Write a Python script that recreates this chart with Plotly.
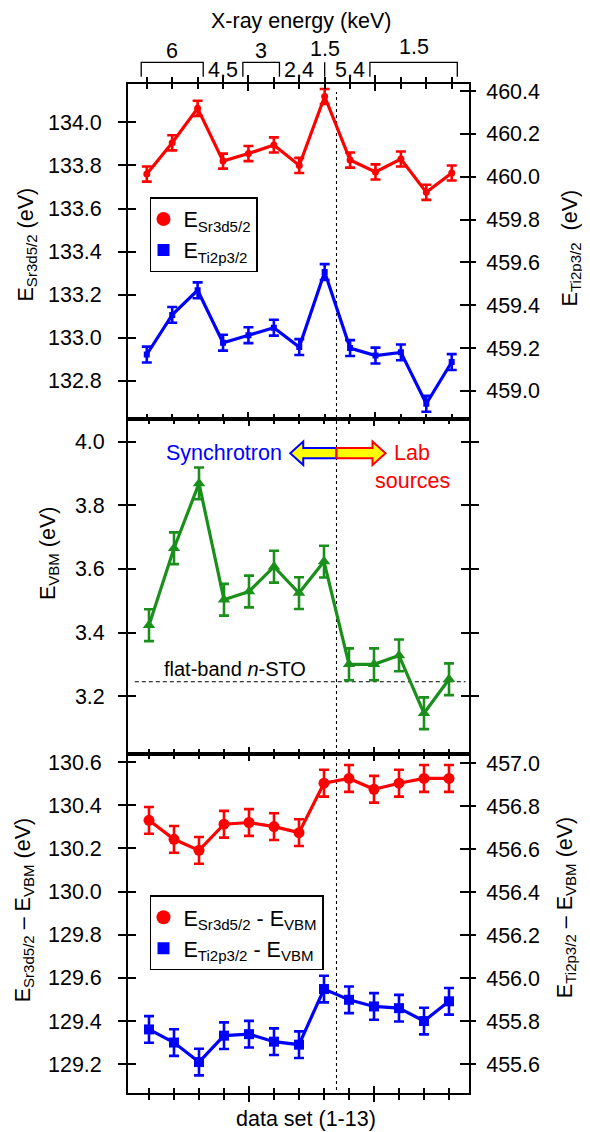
import plotly.graph_objects as go

# ---------------- data ----------------
data_set = list(range(1, 14))

e_sr3d = [133.76, 133.905, 134.065, 133.82, 133.855, 133.895, 133.80, 134.12,
          133.825, 133.77, 133.83, 133.675, 133.765]
e_sr3d_err = [0.035] * 13
e_ti2p = [459.17, 459.355, 459.47, 459.225, 459.26, 459.295, 459.205, 459.555,
          459.20, 459.165, 459.18, 458.94, 459.135]
e_ti2p_err = [0.037] * 13

e_vbm = [3.423, 3.665, 3.869, 3.503, 3.529, 3.607, 3.524, 3.623,
         3.30, 3.30, 3.328, 3.146, 3.253]
e_vbm_err = [0.05] * 13

sr_minus_vbm = [130.33, 130.242, 130.191, 130.312, 130.32, 130.301, 130.273,
                130.502, 130.524, 130.474, 130.502, 130.524, 130.524]
sr_minus_vbm_err = [0.062] * 13
ti_minus_vbm = [455.761, 455.70, 455.609, 455.732, 455.739, 455.704, 455.69,
                455.949, 455.899, 455.868, 455.86, 455.80, 455.892]
ti_minus_vbm_err = [0.062] * 13

# X-ray energy groups (first data set, last data set, energy label in keV)
energy_groups = [(1, 3, "6"), (4, 4, "4.5"), (5, 6, "3"), (7, 7, "2.4"),
                 (8, 8, "1.5"), (9, 9, "5.4"), (10, 13, "1.5")]
marked_single = [8]          # single data set marked with a bar

divider_x = 8.5              # synchrotron | lab boundary
flat_band = 3.245            # flat-band n-STO level

# ---------------- styles ----------------
FONT = "Liberation Sans, Arial, sans-serif"
FS = 21.5
RED = "#ff0000"
BLUE = "#0000ff"
GREEN = "#1b8f1b"
LW = 1.8

r1_left = [132.622, 134.178]
r1_right = [458.868, 460.433]
r2 = [3.017, 4.071]
r3_left = [129.067, 130.636]
r3_right = [455.465, 457.042]
x_top = [0.26, 13.68]
x_low = [0.16, 13.80]

D1 = [0.6678, 1.0]
D2 = [0.3357, 0.6678]
D3 = [0.0, 0.3357]

fig = go.Figure()


def err(arr, color):
    return dict(type="data", array=arr, color=color, thickness=2.6, width=5)


# panel 1
fig.add_trace(go.Scatter(x=data_set, y=e_sr3d, mode="lines+markers",
                         line=dict(color=RED, width=3.2),
                         marker=dict(symbol="circle", size=7, color=RED),
                         error_y=err(e_sr3d_err, RED),
                         xaxis="x", yaxis="y", showlegend=False))
fig.add_trace(go.Scatter(x=data_set, y=e_ti2p, mode="lines+markers",
                         line=dict(color=BLUE, width=3.2),
                         marker=dict(symbol="square", size=6, color=BLUE),
                         error_y=err(e_ti2p_err, BLUE),
                         xaxis="x", yaxis="y2", showlegend=False))
# panel 2
fig.add_trace(go.Scatter(x=data_set, y=e_vbm, mode="lines+markers",
                         line=dict(color=GREEN, width=3.2),
                         marker=dict(symbol="triangle-up", size=11, color=GREEN),
                         error_y=err(e_vbm_err, GREEN),
                         xaxis="x2", yaxis="y5", showlegend=False))
# panel 3
fig.add_trace(go.Scatter(x=data_set, y=sr_minus_vbm, mode="lines+markers",
                         line=dict(color=RED, width=3.2),
                         marker=dict(symbol="circle", size=11, color=RED),
                         error_y=err(sr_minus_vbm_err, RED),
                         xaxis="x3", yaxis="y7", showlegend=False))
fig.add_trace(go.Scatter(x=data_set, y=ti_minus_vbm, mode="lines+markers",
                         line=dict(color=BLUE, width=3.2),
                         marker=dict(symbol="square", size=10, color=BLUE),
                         error_y=err(ti_minus_vbm_err, BLUE),
                         xaxis="x3", yaxis="y8", showlegend=False))

# legend entries
fig.add_trace(go.Scatter(x=[None], y=[None], mode="markers", name="E<sub>Sr3d5/2</sub>",
                         marker=dict(symbol="circle", size=14, color=RED),
                         xaxis="x", yaxis="y", legend="legend"))
fig.add_trace(go.Scatter(x=[None], y=[None], mode="markers", name="E<sub>Ti2p3/2</sub>",
                         marker=dict(symbol="square", size=12, color=BLUE),
                         xaxis="x", yaxis="y", legend="legend"))
fig.add_trace(go.Scatter(x=[None], y=[None], mode="markers",
                         name="E<sub>Sr3d5/2</sub> - E<sub>VBM</sub>",
                         marker=dict(symbol="circle", size=14, color=RED),
                         xaxis="x3", yaxis="y7", legend="legend2"))
fig.add_trace(go.Scatter(x=[None], y=[None], mode="markers",
                         name="E<sub>Ti2p3/2</sub> - E<sub>VBM</sub>",
                         marker=dict(symbol="square", size=12, color=BLUE),
                         xaxis="x3", yaxis="y7", legend="legend2"))

# placeholder traces so overlay axes (crossing ticks) are drawn
for xa, ya in [("x", "y3"), ("x", "y4"), ("x4", "y"), ("x2", "y6"),
               ("x3", "y9"), ("x3", "y10"), ("x5", "y7")]:
    fig.add_trace(go.Scatter(x=[None], y=[None], xaxis=xa, yaxis=ya,
                             showlegend=False, hoverinfo="skip"))

tickfont = dict(family=FONT, size=FS, color="black")


def xax(rng, anchor, ticks, side="bottom", mirror="ticks", overlaying=None):
    d = dict(range=rng, anchor=anchor, domain=[0, 1], side=side,
             showline=True, linecolor="black", linewidth=LW, mirror=mirror,
             ticks=ticks, ticklen=7, tickwidth=LW, tickcolor="black",
             tick0=0, dtick=5, showticklabels=False, showgrid=False, zeroline=False,
             minor=dict(dtick=1, ticks=ticks, ticklen=5, tickwidth=LW,
                        tickcolor="black", showgrid=False))
    if overlaying:
        d["overlaying"] = overlaying
    return d


def yax(rng, anchor, domain, side, ticks, dtick, labels, ticklen=8,
        overlaying=None, mirror=False, standoff=0):
    d = dict(range=rng, anchor=anchor, domain=domain, side=side,
             showline=True, linecolor="black", linewidth=LW, mirror=mirror,
             ticks=ticks, ticklen=ticklen, tickwidth=LW, tickcolor="black",
             dtick=dtick, tickformat=".1f", showticklabels=labels,
             tickfont=tickfont, showgrid=False, zeroline=False,
             ticklabelstandoff=standoff)
    if overlaying:
        d["overlaying"] = overlaying
    return d


# the page body has an 8px margin, so the figure is 8px smaller than the window
layout = dict(
    width=582, height=1124,
    margin=dict(l=120, r=121, t=76, b=39),
    paper_bgcolor="white", plot_bgcolor="white",
    font=dict(family=FONT, size=FS, color="black"),
    xaxis=xax(x_top, "y", "inside"),
    xaxis2=xax(x_low, "y5", "inside"),
    xaxis3=xax(x_low, "y7", "inside"),
    xaxis4=xax(x_top, "y", "outside", side="top", mirror=False, overlaying="x"),
    xaxis5=xax(x_low, "y7", "outside", side="bottom", mirror=False, overlaying="x3"),
    yaxis=yax(r1_left, "x", D1, "left", "outside", 0.2, True, standoff=12),
    yaxis2=yax(r1_right, "x", D1, "right", "outside", 0.2, True, ticklen=5,
               overlaying="y", standoff=6),
    yaxis3=yax(r1_left, "x", D1, "left", "inside", 0.2, False, overlaying="y"),
    yaxis4=yax(r1_right, "x", D1, "right", "inside", 0.2, False, ticklen=9,
               overlaying="y"),
    yaxis5=yax(r2, "x2", D2, "left", "outside", 0.2, True, mirror="ticks", standoff=9),
    yaxis6=yax(r2, "x2", D2, "left", "inside", 0.2, False, mirror="ticks",
               overlaying="y5"),
    yaxis7=yax(r3_left, "x3", D3, "left", "outside", 0.2, True, standoff=12),
    yaxis8=yax(r3_right, "x3", D3, "right", "outside", 0.2, True, ticklen=5,
               overlaying="y7", standoff=6),
    yaxis9=yax(r3_left, "x3", D3, "left", "inside", 0.2, False, overlaying="y7"),
    yaxis10=yax(r3_right, "x3", D3, "right", "inside", 0.2, False, ticklen=9,
                overlaying="y7"),
    legend=dict(x=0.0645, y=0.888, xanchor="left", yanchor="top",
                bordercolor="black", borderwidth=1.5, bgcolor="white",
                font=dict(family=FONT, size=FS), indentation=-8,
                tracegroupgap=0),
    legend2=dict(x=0.0645, y=0.196, xanchor="left", yanchor="top",
                 bordercolor="black", borderwidth=1.5, bgcolor="white",
                 font=dict(family=FONT, size=FS), indentation=-8,
                 tracegroupgap=0),
)
fig.update_layout(**layout)

# ---------------- annotations ----------------
ann = []


def txt(text, x, y, xref="paper", yref="paper", angle=0, color="black", size=FS):
    ann.append(dict(text=text, x=x, y=y, xref=xref, yref=yref, showarrow=False,
                    textangle=angle, xanchor="center", yanchor="middle",
                    font=dict(family=FONT, size=size, color=color)))


# axis titles
txt("X-ray energy (keV)", 0.508, 1.0627)
txt("data set (1-13)", 0.521, -0.0255)
txt("E<sub>Sr3d5/2</sub> (eV)", -0.296, 0.841, angle=-90)
txt("E<sub>Ti2p3/2</sub>  (eV)", 1.299, 0.838, angle=-90)
txt("E<sub>VBM</sub> (eV)", -0.232, 0.535, angle=-90)
txt("E<sub>Sr3d5/2</sub> \u2013 E<sub>VBM</sub> (eV)", -0.305, 0.182, angle=-90)
txt("E<sub>Ti2p3/2</sub> \u2013 E<sub>VBM</sub> (eV)", 1.284, 0.184, angle=-90)

# energy groups on top
Y_HI_LABEL = 1.0325
Y_LO_LABEL = 1.0136
Y_BR_TOP = 1.0215
Y_BR_BOT = 1.0072
pad = 0.22
shapes = []
for first, last, label in energy_groups:
    mid = (first + last) / 2
    if last > first:
        shapes.append(dict(type="path", xref="x", yref="paper",
                           path=f"M {first - pad},{Y_BR_BOT} L {first - pad},{Y_BR_TOP} "
                                f"L {last + pad},{Y_BR_TOP} L {last + pad},{Y_BR_BOT}",
                           line=dict(color="black", width=1.3)))
        txt(label, mid, Y_HI_LABEL + (0.004 if first >= 10 else 0), xref="x")
    elif first in marked_single:
        shapes.append(dict(type="line", xref="x", yref="paper",
                           x0=first, x1=first, y0=Y_BR_BOT, y1=Y_BR_TOP,
                           line=dict(color="black", width=1.3)))
        txt(label, mid, Y_HI_LABEL + 0.002, xref="x")
    else:
        txt(label, mid, Y_LO_LABEL, xref="x")

# vertical divider
shapes.append(dict(type="line", xref="x2", yref="paper", x0=divider_x, x1=divider_x,
                   y0=0.003, y1=0.992, layer="below",
                   line=dict(color="black", width=1.1, dash="3px,3px")))
# flat band line
shapes.append(dict(type="line", xref="x2 domain", yref="y5", x0=0.02, x1=0.99,
                   y0=flat_band, y1=flat_band, layer="below",
                   line=dict(color="black", width=1.1, dash="4px,3px")))
txt("flat-band <i>n</i>-STO", 4.44, flat_band + 0.04, xref="x2", yref="y5", size=20)

# synchrotron / lab arrows
arrow_y = 3.964
arrow_left = 6.65
arrow_right = 10.46
head_len = 0.52
body_h = 0.016
head_h = 0.037
yl, yh = arrow_y - body_h, arrow_y + body_h
shapes.append(dict(type="path", xref="x2", yref="y5", fillcolor="#ffff00",
                   line=dict(color=BLUE, width=2),
                   path=(f"M {divider_x},{yl} L {arrow_left + head_len},{yl} "
                         f"L {arrow_left + head_len},{arrow_y - head_h} L {arrow_left},{arrow_y} "
                         f"L {arrow_left + head_len},{arrow_y + head_h} "
                         f"L {arrow_left + head_len},{yh} L {divider_x},{yh} Z")))
shapes.append(dict(type="path", xref="x2", yref="y5", fillcolor="#ffff00",
                   line=dict(color=RED, width=2),
                   path=(f"M {divider_x},{yl} L {arrow_right - head_len},{yl} "
                         f"L {arrow_right - head_len},{arrow_y - head_h} L {arrow_right},{arrow_y} "
                         f"L {arrow_right - head_len},{arrow_y + head_h} "
                         f"L {arrow_right - head_len},{yh} L {divider_x},{yh} Z")))
txt("Synchrotron", 4.0, arrow_y, xref="x2", yref="y5", color=BLUE)
txt("Lab", 11.53, arrow_y, xref="x2", yref="y5", color=RED)
txt("sources", 11.53, 3.877, xref="x2", yref="y5", color=RED)

fig.update_layout(annotations=ann, shapes=shapes)
fig.write_html("out.html")
